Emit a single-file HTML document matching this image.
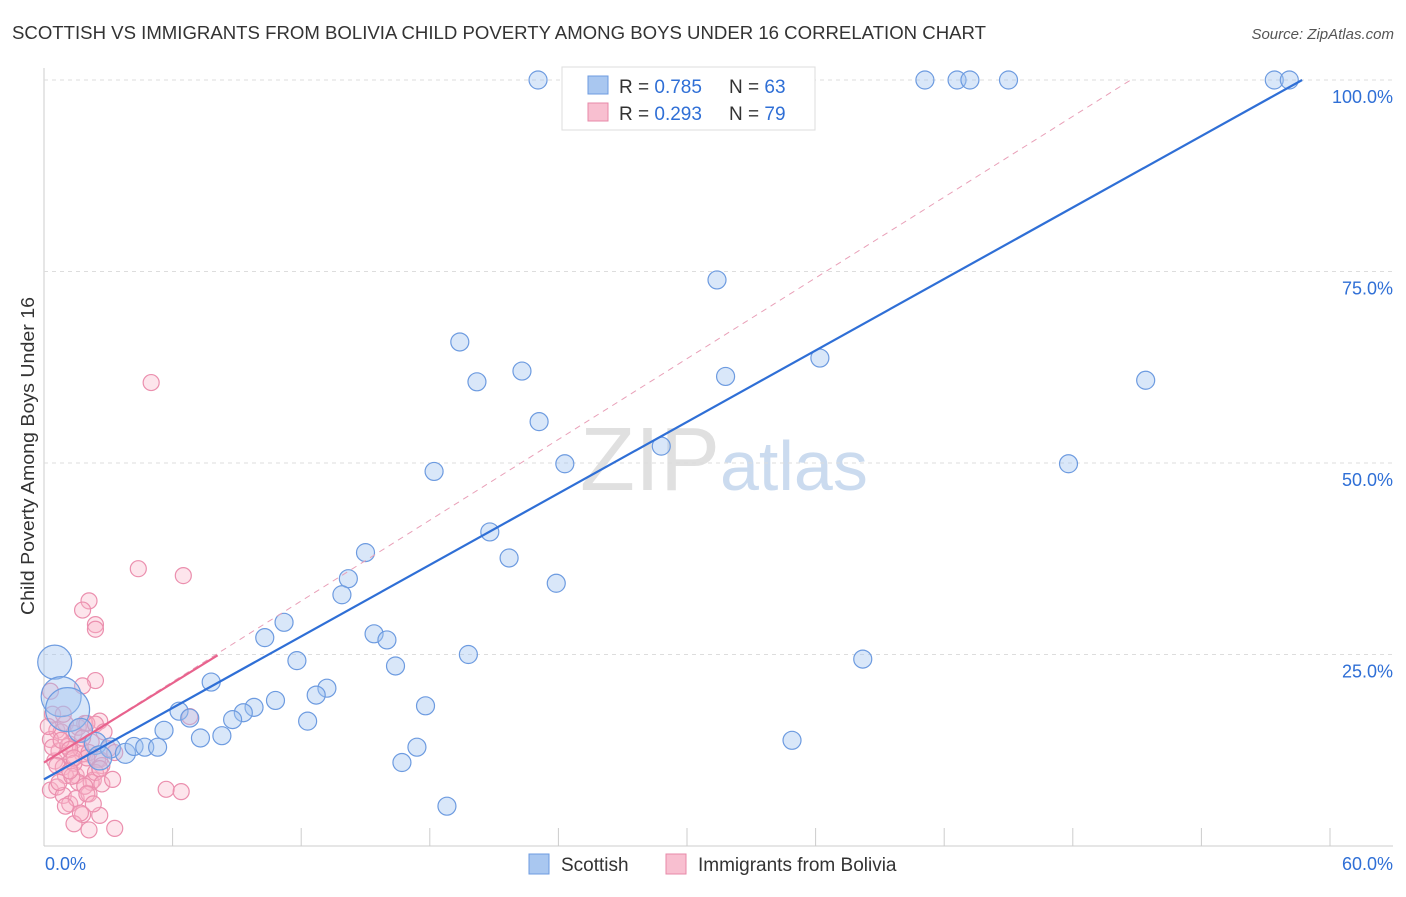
<!DOCTYPE html>
<html><head><meta charset="utf-8"><style>
body{margin:0;background:#fff;font-family:"Liberation Sans",sans-serif}
svg text{font-family:"Liberation Sans",sans-serif}
</style></head><body>
<svg id="c" width="1406" height="892">
<text x="12" y="39" font-size="18" fill="#333" textLength="974" lengthAdjust="spacingAndGlyphs">SCOTTISH VS IMMIGRANTS FROM BOLIVIA CHILD POVERTY AMONG BOYS UNDER 16 CORRELATION CHART</text>
<text x="1394" y="39" font-size="15" fill="#555" text-anchor="end" font-style="italic">Source: ZipAtlas.com</text>
<text x="34" y="456" font-size="18" fill="#333" text-anchor="middle" textLength="318" lengthAdjust="spacingAndGlyphs" transform="rotate(-90 34 456)">Child Poverty Among Boys Under 16</text>
<text x="720" y="490" font-size="90" fill="#ccc" opacity="0.6" text-anchor="end" font-family="Liberation Serif">ZIP</text>
<text x="720" y="490" font-size="70" fill="#a9c4e6" opacity="0.6">atlas</text>
<g id="grid"></g><g id="marks"></g>
<g>
<rect x="562" y="67" width="253" height="63" fill="#fff" stroke="#ddd"/>
<rect x="588" y="76" width="20" height="18" fill="#a9c7f0" stroke="#6d9be0"/>
<rect x="588" y="103" width="20" height="18" fill="#f8bfd0" stroke="#e78aa8"/>
<text x="619" y="93" font-size="19" fill="#333">R = <tspan fill="#2f6fd6">0.785</tspan><tspan x="729">N = </tspan><tspan fill="#2f6fd6">63</tspan></text>
<text x="619" y="120" font-size="19" fill="#333">R = <tspan fill="#2f6fd6">0.293</tspan><tspan x="729">N = </tspan><tspan fill="#2f6fd6">79</tspan></text>
</g>
<g>
<rect x="529" y="854" width="20" height="20" fill="#a9c7f0" stroke="#6d9be0"/>
<text x="561" y="871" font-size="19" fill="#333">Scottish</text>
<rect x="666" y="854" width="20" height="20" fill="#f8bfd0" stroke="#e78aa8"/>
<text x="698" y="871" font-size="19" fill="#333">Immigrants from Bolivia</text>
</g>
</svg>
<script>
const blueX=[23.05,27.2,41.1,42.6,43.2,45.0,57.4,58.1,31.4,19.4,20.2,22.3,31.8,36.2,51.4,23.1,24.3,18.2,28.8,47.8,20.8,21.7,23.9,15,14.2,13.9,11.2,10.3,15.4,16,11.8,19.8,38.2,16.4,13.2,12.7,7.8,10.8,17.8,9.8,9.3,8.8,6.3,6.8,12.3,5.6,8.3,7.3,17.4,16.7,18.8,34.9,0.5,0.8,1.1,1.7,2.4,3.1,3.8,4.2,4.7,5.3,2.6];
const blueY=[100,100,100,100,100,100,100,100,73.9,65.8,60.6,62,61.3,63.7,60.8,55.4,49.9,48.9,52.2,49.9,41,37.6,34.3,38.3,34.9,32.8,29.2,27.2,27.7,26.9,24.2,25,24.4,23.5,20.6,19.7,21.4,19,18.3,18.1,17.4,16.5,17.6,16.7,16.3,15.1,14.4,14.1,12.9,10.9,5.2,13.8,24,19.5,17.8,15.1,13.4,12.8,12.1,13,12.9,12.9,11.5];
const blueR=[9,9,9,9,9,9,9,9,9,9,9,9,9,9,9,9,9,9,9,9,9,9,9,9,9,9,9,9,9,9,9,9,9,9,9,9,9,9,9,9,9,9,9,9,9,9,9,9,9,9,9,9,17,20,22,12,11,10,10,9,9,9,12];
const pinkX=[5,4.4,6.5,2.1,1.8,2.4,2.4,2.4,1.8,0.3,6.8,2.6,1.9,0.4,0.6,0.8,1,1.2,1.4,1.6,1.8,2,2.2,2.4,2.6,2.8,3,0.3,0.5,0.7,0.9,1.1,1.3,1.5,1.7,1.9,2.1,2.3,2.5,2.7,0.2,0.4,0.6,0.8,1,1.2,1.4,1.6,1.8,2,2.2,2.4,2.6,0.3,0.6,0.9,1.2,1.5,1.8,2.1,2.7,1,1.4,1.7,2.1,2.6,0.7,1.3,1.9,5.7,6.4,3.3,2,3.2,1.4,2.3,1.2,3.3,0.9];
const pinkY=[60.5,36.2,35.3,32,30.8,28.9,28.3,21.6,20.9,20.2,16.9,16.3,16,17.2,15.1,14.9,16,13.3,14.7,15.5,12,16,13.6,15.9,11.3,14.9,12.7,13.9,11.1,12.4,10.3,13,11.4,9.2,12.7,10,12.2,8.6,11.3,10.5,15.6,12.9,10.5,13.8,9.2,12.6,10.8,8.3,14.1,11.5,8.3,9.6,10.1,7.3,7.7,6.6,5.5,6.2,4.1,6.8,8.1,5.2,2.9,4.3,2.1,4,8.3,9.1,7.8,7.4,7.1,2.3,6.8,8.7,11.5,5.5,9.8,12.2,17.2];
const yTicks=[25,50,75,100];
const X0=44,X1=1330,Y0=846,Y1=80;
const sx=v=>X0+v/60*(X1-X0), sy=v=>Y0-v/100*(Y0-Y1);
const NS='http://www.w3.org/2000/svg';
const grid=document.getElementById('grid'),marks=document.getElementById('marks');
function mk(tag,attrs,parent){const e=document.createElementNS(NS,tag);for(const k in attrs)e.setAttribute(k,attrs[k]);parent.appendChild(e);return e;}
let ax=mk('line',{x1:X0,y1:68,x2:X0,y2:846,stroke:'#ccc'},grid);


let bx=mk('line',{x1:X0,y1:846,x2:1393,y2:846,stroke:'#ccc'},grid);


for(let i=1;i<=10;i++){const t=mk('line',{x1:sx(i*6),x2:sx(i*6),y1:828,y2:846,stroke:'#ccc'},grid);

}
yTicks.forEach(v=>{const g=mk('line',{x1:X0,x2:1393,y1:sy(v),y2:sy(v),stroke:'#ddd','stroke-dasharray':'4,4'},grid);


const t=mk('text',{x:1393,y:sy(v)+23,'font-size':18,fill:'#2f6fd6','text-anchor':'end'},grid);t.textContent=v.toFixed(1)+'%';

});
let l0=mk('text',{x:45,y:870,'font-size':18,fill:'#2f6fd6'},grid);l0.textContent='0.0%';


let l1=mk('text',{x:1393,y:870,'font-size':18,fill:'#2f6fd6','text-anchor':'end'},grid);l1.textContent='60.0%';


pinkX.forEach((x,i)=>{const c=mk('circle',{cx:sx(x),cy:sy(pinkY[i]),r:8,fill:'rgba(248,180,200,0.35)',stroke:'#eb8fae','stroke-width':1.2},marks);

});
blueX.forEach((x,i)=>{const c=mk('circle',{cx:sx(x),cy:sy(blueY[i]),r:blueR[i],fill:'rgba(160,195,240,0.4)',stroke:'#6d9be0','stroke-width':1.2},marks);

});
let pd=mk('line',{x1:sx(0),y1:sy(10.9),x2:sx(50.7),y2:sy(100),stroke:'#e9a0b8','stroke-dasharray':'6,5'},marks);


let bl=mk('line',{x1:sx(0),y1:sy(8.7),x2:sx(58.7),y2:sy(100),stroke:'#2f6fd6','stroke-width':2.2},marks);


let pl=mk('line',{x1:sx(0),y1:sy(10.9),x2:sx(8.1),y2:sy(24.9),stroke:'#e8628d','stroke-width':2.2},marks);


</script>
</body></html>
